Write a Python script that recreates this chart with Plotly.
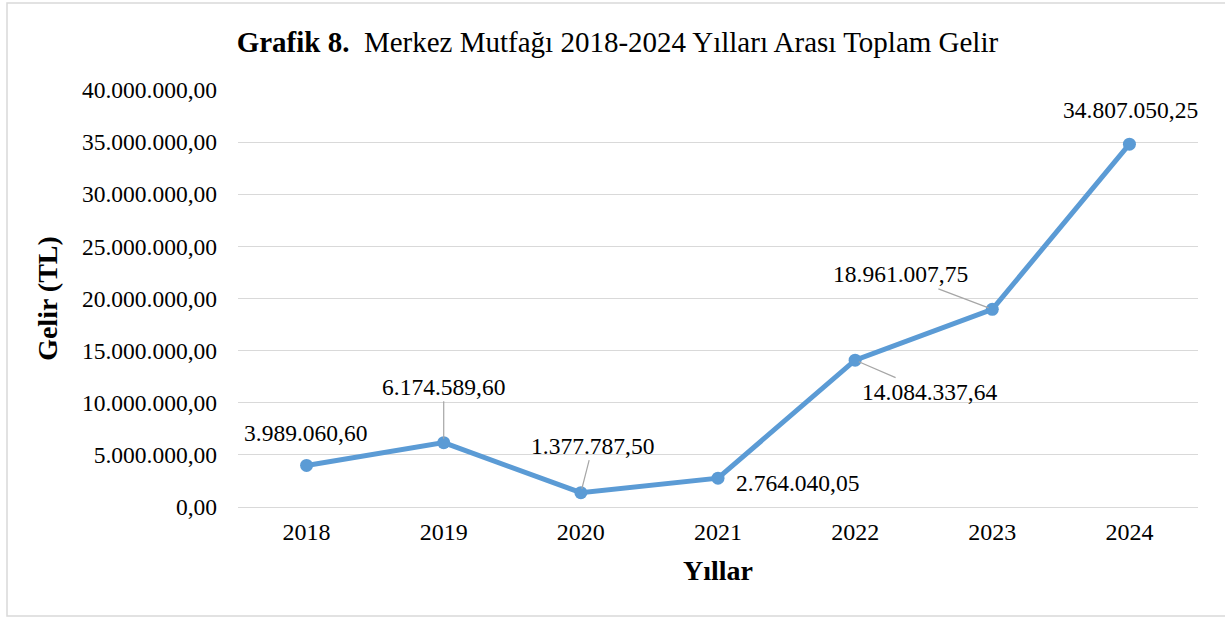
import plotly.graph_objects as go

years = ["2018", "2019", "2020", "2021", "2022", "2023", "2024"]
gelir = [3989060.60, 6174589.60, 1377787.50, 2764040.05, 14084337.64, 18961007.75, 34807050.25]
y_ticks = [0, 5000000, 10000000, 15000000, 20000000, 25000000, 30000000, 35000000, 40000000]

# label offsets in pixels (ax, ay) and whether a leader line is shown
label_offsets = [(-1, -32, False), (0, -56, True), (12, -47, True), (79, 5, False),
                 (74, 32, True), (-92, -35, True), (1, -34, False)]


def tr_fmt(v):
    s = f"{v:,.2f}"
    return s.replace(",", "X").replace(".", ",").replace("X", ".")


FONT = "Liberation Serif, Times New Roman, serif"
LINE = "#5B9BD5"

fig = go.Figure()
fig.add_trace(go.Scatter(
    x=years, y=gelir, mode="lines+markers",
    line=dict(color=LINE, width=5),
    marker=dict(color=LINE, size=13),
    hoverinfo="skip", showlegend=False,
))

annotations = []
for i, (v, (ax, ay, leader)) in enumerate(zip(gelir, label_offsets)):
    annotations.append(dict(
        x=i, y=v, xref="x", yref="y", text=tr_fmt(v),
        showarrow=True, ax=ax, ay=ay, axref="pixel", ayref="pixel",
        arrowhead=0, arrowwidth=1.2,
        arrowcolor="#A6A6A6" if leader else "rgba(0,0,0,0)",
        standoff=4,
        font=dict(family=FONT, size=23.5, color="#000000"),
    ))

fig.update_layout(
    width=1225, height=618,
    margin=dict(l=238, r=27, t=90, b=111),
    paper_bgcolor="white", plot_bgcolor="white",
    font=dict(family=FONT, color="#000000"),
    title=dict(
        text="<b>Grafik 8.</b>  Merkez Mutfağı 2018-2024 Yılları Arası Toplam Gelir",
        x=0.504, xanchor="center", y=1 - 42 / 618, yanchor="middle",
        font=dict(family=FONT, size=29, color="#000000"),
    ),
    annotations=annotations,
    shapes=[dict(type="rect", xref="paper", yref="paper",
                 x0=(7 - 238) / 960, x1=(1240 - 238) / 960,
                 y0=(507 - 616) / 417, y1=(507 - 3) / 417,
                 line=dict(color="#D9D9D9", width=1.5), layer="below")],
)

fig.update_xaxes(
    type="category", range=[-0.5, 6.5],
    showgrid=False, showline=False, zeroline=False,
    ticks="", tickfont=dict(family=FONT, size=24),
    ticklabelstandoff=8,
    title=dict(text="<b>Yıllar</b>", font=dict(family=FONT, size=28), standoff=16),
)
fig.update_yaxes(
    range=[0, 40000000],
    tickvals=y_ticks, ticktext=[tr_fmt(v) for v in y_ticks],
    showgrid=True, gridcolor="#D9D9D9", gridwidth=1.3,
    zeroline=True, zerolinecolor="#D9D9D9", zerolinewidth=1.3,
    showline=False, ticks="", tickfont=dict(family=FONT, size=23.5),
    ticklabelstandoff=20,
    title=dict(text="<b>Gelir (TL)</b>", font=dict(family=FONT, size=28), standoff=16),
)

fig.write_html("out.html", config={"displayModeBar": False},
               post_script="document.body.style.margin='0';")
